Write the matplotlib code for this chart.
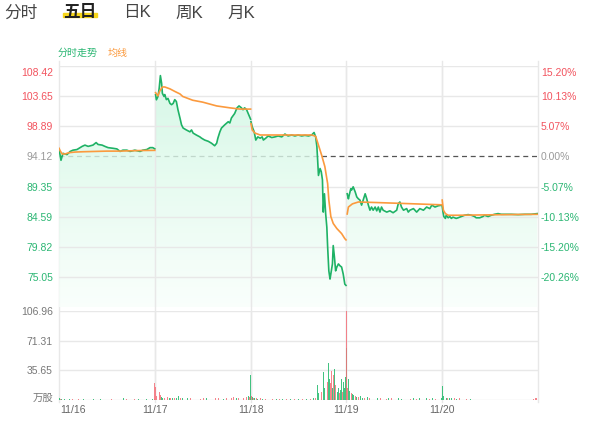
import numpy as np
import matplotlib
matplotlib.use('Agg')
import matplotlib.pyplot as plt
from matplotlib.lines import Line2D
from matplotlib.patches import Rectangle
import matplotlib.transforms as mtrans

plt.rcParams['font.family'] = ['Liberation Sans', 'Noto Sans CJK SC', 'DejaVu Sans']

# ---------------- data ----------------
prev_close = 94.12
price_ticks = [108.42, 103.65, 98.89, 94.12, 89.35, 84.59, 79.82, 75.05]
pct_labels = ['15.20%', '10.13%', '5.07%', '0.00%', '-5.07%', '-10.13%', '-15.20%', '-20.26%']
vol_ticks = [106.96, 71.31, 35.65]
day_labels = ['11/16', '11/17', '11/18', '11/19', '11/20']
tabs = ['分时', '五日', '日K', '周K', '月K']

# minute-of-day / price, one list per day
d1_min = [0, 5, 10, 20, 28, 35, 45, 58, 65, 73, 85, 93, 98, 108, 115, 123, 135, 145, 153, 160, 170, 178, 190, 203, 210, 220, 228, 235, 240]
d1_price = [95.3, 93.5, 94.6, 94.4, 94.9, 95.1, 95.2, 95.7, 95.9, 95.7, 95.9, 96.3, 96.0, 95.9, 95.7, 95.5, 95.4, 95.3, 94.9, 95.1, 95.1, 94.9, 95.1, 94.9, 95.1, 95.2, 95.5, 95.5, 95.3]
d2_min = [2, 4, 8, 11, 14, 17, 19, 23, 25, 29, 33, 38, 42, 46, 50, 54, 58, 63, 67, 71, 79, 88, 92, 96, 104, 113, 117, 125, 134, 142, 150, 155, 158, 163, 167, 175, 184, 188, 192, 200, 206, 211, 217, 221, 225, 230, 234, 238, 240]
d2_price = [103.87, 103.07, 103.6, 104.9, 106.9, 105.7, 104.1, 103.6, 103.9, 103.1, 103.3, 102.5, 102.3, 102.5, 103.1, 102.8, 101.5, 100.2, 99.1, 98.6, 98.3, 98.0, 98.3, 97.8, 97.5, 97.2, 97.0, 96.7, 96.5, 96.2, 95.8, 96.2, 97.0, 98.0, 98.6, 99.1, 99.6, 99.4, 100.2, 100.9, 101.8, 102.1, 101.8, 101.5, 101.8, 101.5, 100.9, 100.3, 100.0]
d3_min = [1, 4, 9, 13, 18, 24, 29, 32, 38, 44, 53, 61, 69, 78, 86, 94, 103, 111, 119, 128, 136, 145, 153, 159, 163, 166, 168, 170, 174, 177, 180, 182, 185, 188, 191, 193, 196, 199, 201, 205, 207, 210, 213, 216, 220, 224, 228, 232, 236, 239]
d3_price = [99.6, 98.8, 98.0, 96.7, 97.2, 97.0, 97.2, 96.7, 97.0, 97.35, 97.1, 97.2, 97.35, 97.2, 97.65, 97.35, 97.5, 97.35, 97.5, 97.35, 97.45, 97.35, 97.5, 97.9, 97.2, 95.7, 93.5, 91.1, 92.2, 91.7, 90.4, 85.3, 88.2, 85.1, 82.9, 79.8, 76.0, 74.7, 75.5, 77.1, 80.0, 78.2, 76.0, 76.6, 77.1, 76.8, 76.6, 75.5, 73.9, 73.7]
d4_min = [2, 5, 7, 11, 13, 17, 22, 26, 30, 34, 38, 42, 47, 51, 55, 59, 63, 67, 72, 76, 80, 84, 88, 92, 101, 109, 117, 126, 130, 134, 138, 143, 151, 155, 159, 168, 176, 184, 193, 201, 209, 214, 222, 230, 239]
d4_price = [88.2, 87.4, 87.97, 89.0, 88.8, 89.3, 88.5, 87.7, 87.4, 87.2, 86.4, 87.2, 88.2, 87.4, 86.4, 85.6, 86.1, 85.6, 86.1, 85.5, 86.1, 85.3, 86.1, 85.6, 85.3, 85.5, 85.2, 85.6, 86.65, 86.9, 86.1, 85.6, 85.85, 85.3, 85.6, 85.85, 85.3, 85.85, 85.6, 86.1, 85.85, 86.4, 86.1, 86.3, 86.4]
d5_min = [0, 2, 4, 8, 10, 15, 19, 23, 27, 31, 35, 40, 48, 56, 65, 73, 81, 85, 94, 102, 106, 115, 123, 131, 140, 148, 157, 173, 190, 207, 223, 238]
d5_price = [86.2, 85.3, 84.6, 84.3, 84.8, 84.4, 84.6, 84.3, 84.5, 84.4, 84.3, 84.4, 84.6, 84.8, 84.9, 84.8, 84.6, 84.4, 84.4, 84.6, 84.8, 84.6, 84.8, 84.95, 85.06, 84.95, 84.95, 84.95, 84.9, 84.95, 84.95, 85.06]

# average price line
a1_min = [0, 3, 8, 15, 25, 40, 60, 90, 120, 150, 180, 210, 240]
a1_val = [95.4, 95.0, 94.5, 94.5, 94.7, 94.8, 94.85, 94.9, 94.95, 94.95, 95.0, 95.05, 95.07]
a2_min = [2, 8, 12, 19, 25, 38, 50, 63, 70, 95, 120, 155, 188, 213, 240]
a2_val = [104.2, 103.7, 104.4, 105.1, 105.1, 104.8, 104.4, 104.0, 103.6, 103.0, 102.7, 102.1, 101.8, 101.6, 101.6]
a3_min = [1, 4, 11, 24, 69, 153, 163, 171, 178, 186, 193, 196, 201, 207, 216, 228, 236, 239]
a3_val = [99.3, 98.3, 97.8, 97.5, 97.5, 97.5, 97.3, 95.7, 94.3, 92.5, 89.8, 87.2, 84.6, 83.5, 82.7, 81.9, 81.1, 80.9]
a4_min = [2, 5, 15, 30, 80, 150, 239]
a4_val = [85.0, 86.1, 86.6, 86.9, 86.8, 86.65, 86.45]
a5_min = [0, 3, 8, 15, 40, 100, 160, 240]
a5_val = [87.2, 85.6, 85.06, 84.8, 84.8, 84.85, 84.9, 84.95]

# volumes (万股): minute, value, colour (r = up, g = down)
v1_min = [0, 1, 3, 6, 10, 14, 20, 26, 33, 40, 48, 55, 62, 70, 78, 86, 95, 104, 112, 120, 125, 132, 140, 150, 158, 162, 170, 180, 190, 200, 210, 220, 228, 235, 240]
v1_val = [3.5, 2.0, 1.5, 1.2, 1.0, 0.8, 1.2, 0.8, 1.0, 0.7, 1.2, 0.8, 1.0, 0.6, 1.0, 0.8, 0.7, 1.0, 0.6, 0.8, 2.2, 0.7, 0.8, 0.6, 1.0, 2.0, 0.8, 0.6, 0.7, 0.8, 0.6, 0.9, 0.7, 1.0, 1.5]
v1_col = "rgrgrgrgrgrggrrgrgrggrgrggrgrgrgrgr"
v2_min = [0, 1, 3, 5, 8, 12, 14, 17, 20, 24, 28, 32, 36, 40, 45, 50, 55, 60, 65, 70, 76, 82, 90, 98, 106, 114, 122, 130, 138, 146, 152, 160, 166, 172, 180, 186, 192, 198, 204, 210, 216, 222, 226, 230, 234, 238]
v2_val = [20, 16, 7, 5, 4, 10, 6, 4, 3, 3, 5, 4, 3, 2.5, 3, 2, 2.5, 5, 2, 3, 2, 2.5, 2, 1.5, 2, 1.5, 2.5, 2, 2.5, 1.5, 2, 3, 2, 1.5, 2.5, 3, 2, 3.5, 3, 2.5, 4, 3, 4, 3.5, 5, 4]
v2_col = "rrgrgrrggrgrgrgrggrgrgrgrrrgrgrrggrgrrgrgrgrgr"
v3_min = [0, 2, 4, 7, 10, 14, 18, 24, 30, 38, 46, 55, 64, 72, 80, 90, 100, 110, 120, 130, 140, 150, 158, 163, 167, 170, 174, 178, 182, 185, 189, 192, 195, 197, 199, 201, 203, 205, 207, 210, 212, 214, 217, 220, 222, 224, 226, 228, 230, 232, 235, 238, 240]
v3_val = [30, 5, 4, 3, 2.5, 2, 1.5, 2, 1.5, 1, 1.5, 1, 1.2, 0.8, 1, 0.8, 1, 1, 0.8, 1.2, 1, 1.5, 2, 3, 18, 8, 16, 10, 34, 14, 19, 22, 45, 25, 55, 20, 35, 15, 30, 37, 18, 28, 10, 15, 9, 13, 12, 25, 10, 22, 15, 28, 62]
v3_col = "grgrgrgrgrgrgrgrgrgrgrgrggrrggrrgggrrgrgrrggrrggrgg"
v4_min = [1, 3, 5, 7, 9, 12, 15, 18, 22, 26, 30, 35, 40, 46, 52, 58, 64, 72, 78, 85, 92, 100, 105, 109, 113, 117, 122, 130, 138, 147, 152, 160, 168, 176, 184, 192, 200, 208, 216, 224, 232, 238]
v4_val = [107, 15, 25, 11, 13, 9, 7, 6, 5, 4, 4, 5, 3, 3, 4, 3, 2.5, 7, 2, 2.5, 2, 1.5, 3, 10, 2, 4, 2, 3, 1.5, 12, 2, 1.5, 2, 1.5, 2, 1.5, 2, 1.5, 2, 1.5, 2, 3]
v4_col = "rrggrrggrgrggrgrgrgrgrggrrgggrgrgrgrgrgrgg"
v5_min = [0, 2, 4, 7, 10, 14, 18, 24, 30, 36, 44, 52, 60, 70, 80, 90, 100, 110, 120, 130, 140, 150, 160, 170, 180, 190, 200, 210, 220, 228, 234, 237, 240]
v5_val = [17, 11, 5, 4, 3, 2.5, 2, 3, 2, 1.5, 2, 1.2, 1, 1.2, 1, 1, 0.8, 1, 0.8, 1, 0.8, 0.8, 1, 0.8, 0.7, 0.8, 0.7, 0.8, 1, 1.5, 2, 3, 35]
v5_col = "grgrgrggrgrgrgrgrgrggrgrgrgrgrrrr"

days_price = [(d1_min, d1_price), (d2_min, d2_price), (d3_min, d3_price), (d4_min, d4_price), (d5_min, d5_price)]
days_avg = [(a1_min, a1_val), (a2_min, a2_val), (a3_min, a3_val), (a4_min, a4_val), (a5_min, a5_val)]
days_vol = [(v1_min, v1_val, v1_col), (v2_min, v2_val, v2_col), (v3_min, v3_val, v3_col), (v4_min, v4_val, v4_col), (v5_min, v5_val, v5_col)]

# ---------------- style ----------------
DAY = 240
N = 5
GREEN = '#1fb266'
ORANGE = '#fb9a3e'
RED_TXT = '#f2535e'
GREEN_TXT = '#2bb673'
GRAY_TXT = '#9a9a9a'
GRID = '#e8e8e8'
pmin, pmax = 70.28, 108.42

W, H = 600, 427
fig = plt.figure(figsize=(W / 100, H / 100), dpi=100)
fig.patch.set_facecolor('white')

def fx(px):
    return px / W

def fy(py):
    return 1 - py / H

left_px, right_px = 59, 538
axp = fig.add_axes([fx(left_px), fy(308), fx(right_px - left_px), (308 - 67) / H])
axv = fig.add_axes([fx(left_px), fy(401), fx(right_px - left_px), (401 - 312) / H])

for ax in (axp, axv):
    ax.set_facecolor('none')
    for s in ax.spines.values():
        s.set_visible(False)
    ax.set_xticks([])
    ax.set_yticks([])

# vertical day separators over the full height
bt = mtrans.blended_transform_factory(axp.transData, fig.transFigure)
for i in range(N + 1):
    fig.add_artist(Line2D([i * DAY, i * DAY], [fy(403), fy(62)], transform=bt,
                          color=GRID, lw=1.0, zorder=-1))

# horizontal price grid (except previous close, which is dashed)
for p in price_ticks:
    if abs(p - prev_close) > 0.01:
        axp.axhline(p, color=GRID, lw=1.0, zorder=3)

# previous close dashed line (under the fill)
axp.axhline(prev_close, color='#555555', lw=0.9, ls=(0, (4, 3)), zorder=1)

# gradient fill per day
grad_n = 256
top_c = np.array([0.80, 0.965, 0.88])
bot_c = np.array([0.975, 1.0, 0.985])
g = np.linspace(0, 1, grad_n)[:, None]
cols = top_c[None, :] * (1 - g) + bot_c[None, :] * g
img = np.zeros((grad_n, 1, 4))
img[:, 0, :3] = cols
img[:, 0, 3] = 0.8

for i, (mins, prices) in enumerate(days_price):
    t = np.array(mins) + i * DAY
    p = np.array(prices)
    poly = axp.fill_between(t, p, pmin, color='none', lw=0)
    im = axp.imshow(img, extent=[0, N * DAY, pmin, pmax], aspect='auto',
                    origin='upper', zorder=2, interpolation='bilinear')
    im.set_clip_path(poly.get_paths()[0], transform=axp.transData)

for i in range(1, N):
    axp.axvline(i * DAY, color=GRID, lw=1.0, zorder=3)

for i, (mins, prices) in enumerate(days_price):
    t = np.array(mins) + i * DAY
    axp.plot(t, prices, color=GREEN, lw=1.2, zorder=5, solid_joinstyle='round')
for i, (mins, vals) in enumerate(days_avg):
    t = np.array(mins) + i * DAY
    axp.plot(t, vals, color=ORANGE, lw=1.2, zorder=6)

axp.set_xlim(0, N * DAY)
axp.set_ylim(pmin, pmax)

# price labels
tr_l = mtrans.blended_transform_factory(axp.transAxes, axp.transData)
for k, (p, pl) in enumerate(zip(price_ticks, pct_labels)):
    if p > prev_close + 0.01:
        c = RED_TXT
    elif p < prev_close - 0.01:
        c = GREEN_TXT
    else:
        c = GRAY_TXT
    yoff = p
    if k == 0:
        yoff = p - 0.9
    axp.text(-6 / 479, yoff, f'{p:.2f}', transform=tr_l, ha='right', va='center',
             fontsize=7.5, color=c)
    axp.text(1 + 3 / 479, yoff, pl, transform=tr_l, ha='left', va='center',
             fontsize=7.5, color=c)

# volume panel
vmax = 106.96
for v in [0] + vol_ticks:
    axv.axhline(v, color=GRID, lw=1.0, zorder=1)
for i in range(1, N):
    axv.axvline(i * DAY, color=GRID, lw=1.0, zorder=1)
for i, (mins, vals, colstr) in enumerate(days_vol):
    t = np.array(mins) + i * DAY
    colors = ['#f46f78' if c == 'r' else '#22b96b' for c in colstr[:len(mins)]]
    colors += ['#22b96b'] * (len(mins) - len(colors))
    axv.bar(t, vals, width=1.8, color=colors, alpha=0.85, zorder=2, lw=0)
axv.set_xlim(0, N * DAY)
axv.set_ylim(0, vmax)

tr_v = mtrans.blended_transform_factory(axv.transAxes, axv.transData)
for v in vol_ticks:
    axv.text(-6 / 479, v, f'{v:.2f}', transform=tr_v, ha='right', va='center',
             fontsize=7.5, color='#777777')
axv.text(-6 / 479, 3.5, '万股', transform=tr_v, ha='right', va='center',
         fontsize=7.5, color='#777777')

# date labels
tx = mtrans.blended_transform_factory(axv.transData, fig.transFigure)
for i, lab in enumerate(day_labels):
    if i == 0:
        fig.text(fx(60), fy(410), lab, ha='left', va='center', fontsize=7.5, color='#666666')
    else:
        fig.text(i * DAY, fy(410), lab, transform=tx, ha='center', va='center',
                 fontsize=7.5, color='#666666')

# top tabs
tab_x = [4, 63, 123, 175, 227]
fig.add_artist(Rectangle((fx(63), fy(18)), fx(34), 4 / H, transform=fig.transFigure,
                         color='#f7d61a', zorder=1))
for x, lab in zip(tab_x, tabs):
    bold = lab == '五日'
    fig.text(fx(x), fy(13), lab, ha='left', va='center', fontsize=12,
             color='#222222' if bold else '#444444',
             fontweight='bold' if bold else 'normal', zorder=2)

# legend
fig.text(fx(58), fy(53), '分时走势', ha='left', va='center', fontsize=7.2, color=GREEN_TXT)
fig.text(fx(108), fy(53), '均线', ha='left', va='center', fontsize=7.2, color=ORANGE)

fig.savefig('out.png', dpi=100, facecolor='white')
